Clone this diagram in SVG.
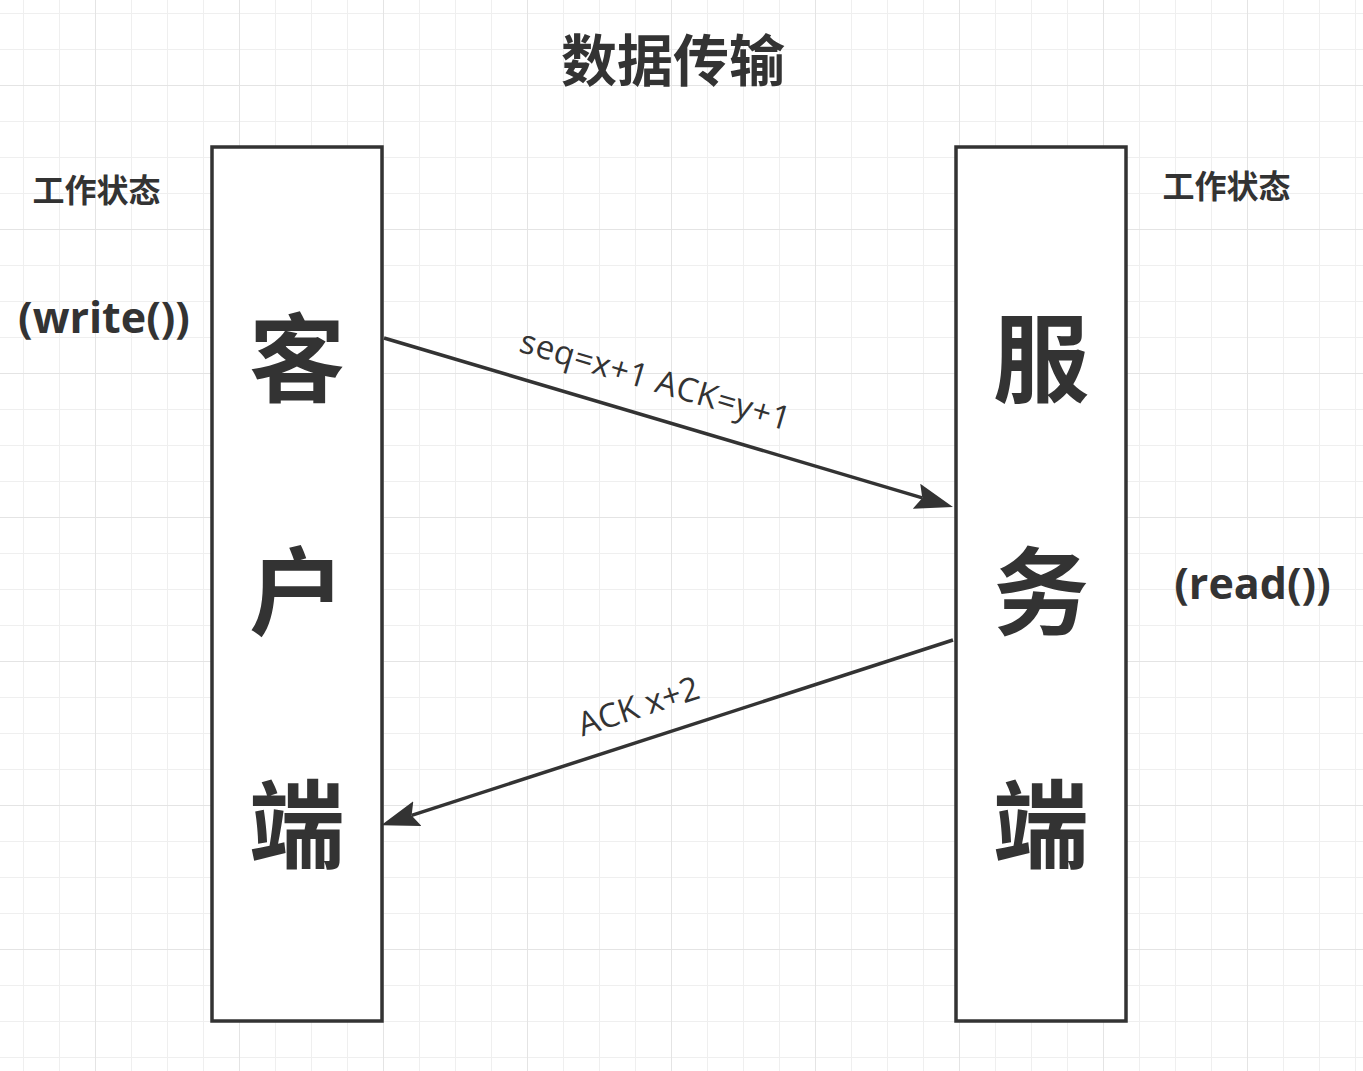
<svg xmlns="http://www.w3.org/2000/svg" width="1363" height="1071" viewBox="0 0 1363 1071">
<defs>
<pattern id="minor" patternUnits="userSpaceOnUse" x="23" y="13" width="36" height="36">
<path d="M0.5,0 V36 M0,0.5 H36" fill="none" stroke="#efefef" stroke-width="1"/>
</pattern>
<pattern id="major" patternUnits="userSpaceOnUse" x="95" y="85" width="144" height="144">
<path d="M0.5,0 V144 M0,0.5 H144" fill="none" stroke="#e4e4e4" stroke-width="1"/>
</pattern>
<marker id="arrow" markerUnits="userSpaceOnUse" markerWidth="40" markerHeight="28" refX="6" refY="13" orient="auto">
<path d="M38,13 L0,0 L6,13 L0,26 Z" fill="#333333"/>
</marker>
<style>
.box{fill:#ffffff;stroke:#333333;stroke-width:3.5}
.big{font-family:"Noto Sans CJK SC","Noto Sans",sans-serif;font-weight:bold;font-size:96px;fill:#333333;text-anchor:middle}
.cjk{font-family:"Noto Sans CJK SC","Noto Sans",sans-serif;font-weight:bold;fill:#333333;text-anchor:middle}
.fn{font-family:"Open Sans","Noto Sans",sans-serif;font-weight:bold;font-size:43px;fill:#333333;text-anchor:middle}
.lbl{font-family:"Open Sans","Noto Sans",sans-serif;font-size:33px;fill:#333333;text-anchor:middle}
.conn{fill:none;stroke:#333333;stroke-width:3.5;marker-end:url(#arrow)}
</style>
</defs>
<rect width="1363" height="1071" fill="#ffffff"/>
<rect width="1363" height="1071" fill="url(#minor)"/>
<rect width="1363" height="1071" fill="url(#major)"/>

<g id="title">
<text class="cjk" x="673" y="81" font-size="56">数据传输</text>
</g>

<g id="client">
<rect class="box" x="212" y="147" width="170" height="874"/>
<text class="big" x="297" y="394">客</text>
<text class="big" x="297" y="627">户</text>
<text class="big" x="297" y="860">端</text>
</g>

<g id="server">
<rect class="box" x="956" y="147" width="170" height="874"/>
<text class="big" x="1041" y="394">服</text>
<text class="big" x="1041" y="627">务</text>
<text class="big" x="1041" y="860">端</text>
</g>

<g id="client-state">
<text class="cjk" x="96.5" y="202" font-size="32">工作状态</text>
<text class="fn" x="104" y="333">(write())</text>
</g>

<g id="server-state">
<text class="cjk" x="1226.5" y="198" font-size="32">工作状态</text>
<text class="fn" x="1252.5" y="599">(read())</text>
</g>

<g id="connectors">
<path class="conn" d="M384,338 L922.3,497.9"/>
<path class="conn" d="M953,640 L411.6,815.4"/>
<text class="lbl" transform="translate(652,391) rotate(16.5)" x="0" y="0" textLength="280" lengthAdjust="spacing">seq=x+1 ACK=y+1</text>
<text class="lbl" transform="translate(642,717) rotate(-18)" x="0" y="0">ACK x+2</text>
</g>
</svg>
